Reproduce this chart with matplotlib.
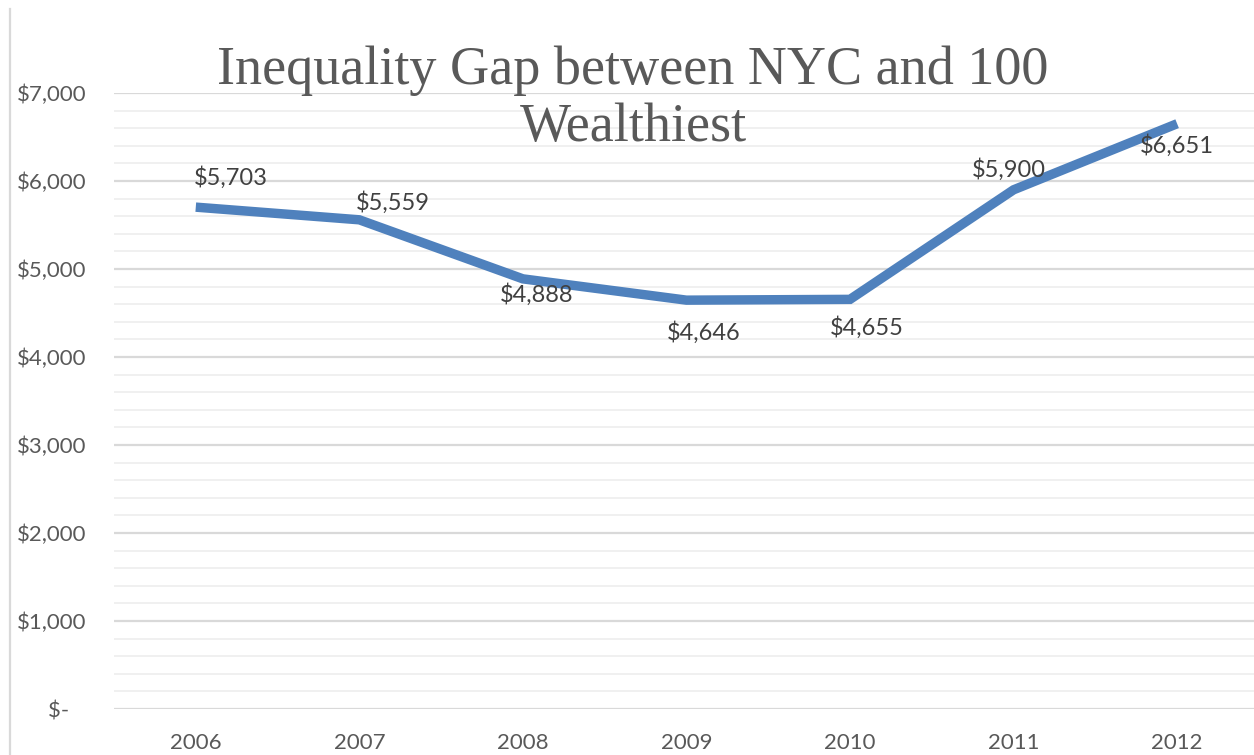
"""Inequality gap line chart (NYC vs 100 wealthiest), Excel-style look."""
import matplotlib
matplotlib.use("Agg")
import matplotlib.pyplot as plt
from matplotlib.lines import Line2D
from matplotlib.ticker import FuncFormatter, MultipleLocator

YEARS = ["2006", "2007", "2008", "2009", "2010", "2011", "2012"]
GAP = [5703, 5559, 4888, 4646, 4655, 5900, 6651]
# label offsets in pixels (x, y) relative to each point, as placed in the original
LABEL_OFFSETS = [(35, 30), (34, 17), (14, -16), (17, -32), (17, -28), (-5, 20), (0, -22)]

TITLE = "Inequality Gap between NYC and 100\nWealthiest"
LINE_COLOR = "#4F81BD"
TEXT_GREY = "#595959"
LABEL_GREY = "#404040"


def money(v, _pos=None):
    if v == 0:
        return "$-   "
    return f"${v:,.0f}"


def main():
    fig = plt.figure(figsize=(12.54, 7.55), dpi=100)
    ax = fig.add_axes([114 / 1254, 46 / 755, 1 - 114 / 1254, 616 / 755])

    x = list(range(len(YEARS)))
    ax.plot(x, GAP, color=LINE_COLOR, linewidth=6.8, solid_joinstyle="miter",
            solid_capstyle="butt", zorder=3)

    for xi, v, (dx, dy) in zip(x, GAP, LABEL_OFFSETS):
        ax.annotate(money(v), (xi, v), xytext=(dx, dy), textcoords="offset pixels",
                    ha="center", va="center", fontsize=17, family="Lato",
                    color=LABEL_GREY, zorder=4)

    ax.set_xlim(-0.5, 6.47)
    ax.set_ylim(0, 7000)
    ax.set_xticks(x)
    ax.set_xticklabels(YEARS)
    ax.yaxis.set_major_locator(MultipleLocator(1000))
    ax.yaxis.set_minor_locator(MultipleLocator(200))
    ax.yaxis.set_major_formatter(FuncFormatter(money))

    ax.grid(which="major", axis="y", color="#D9D9D9", linewidth=1.6, zorder=1)
    ax.grid(which="minor", axis="y", color="#F0F0F0", linewidth=1.4, zorder=0)
    ax.set_axisbelow(True)
    for side in ax.spines.values():
        side.set_visible(False)
    ax.tick_params(which="both", length=0)
    ax.tick_params(axis="y", pad=20, labelsize=16, labelcolor=TEXT_GREY)
    ax.tick_params(axis="x", pad=17, labelsize=16, labelcolor=TEXT_GREY)
    for lab in ax.get_xticklabels() + ax.get_yticklabels():
        lab.set_family("Lato")

    # chart-area border on the left edge
    fig.add_artist(Line2D([10 / 1254, 10 / 1254], [0, 1 - 9 / 755],
                          color="#D9D9D9", linewidth=1.6))

    fig.text(633 / 1254, 1 - 45 / 755, TITLE, ha="center", va="top",
             fontsize=39, family="Liberation Serif", color=TEXT_GREY,
             linespacing=1.18, multialignment="center")

    fig.savefig("out.png", dpi=100, facecolor="white")
    plt.close(fig)


if __name__ == "__main__":
    main()
